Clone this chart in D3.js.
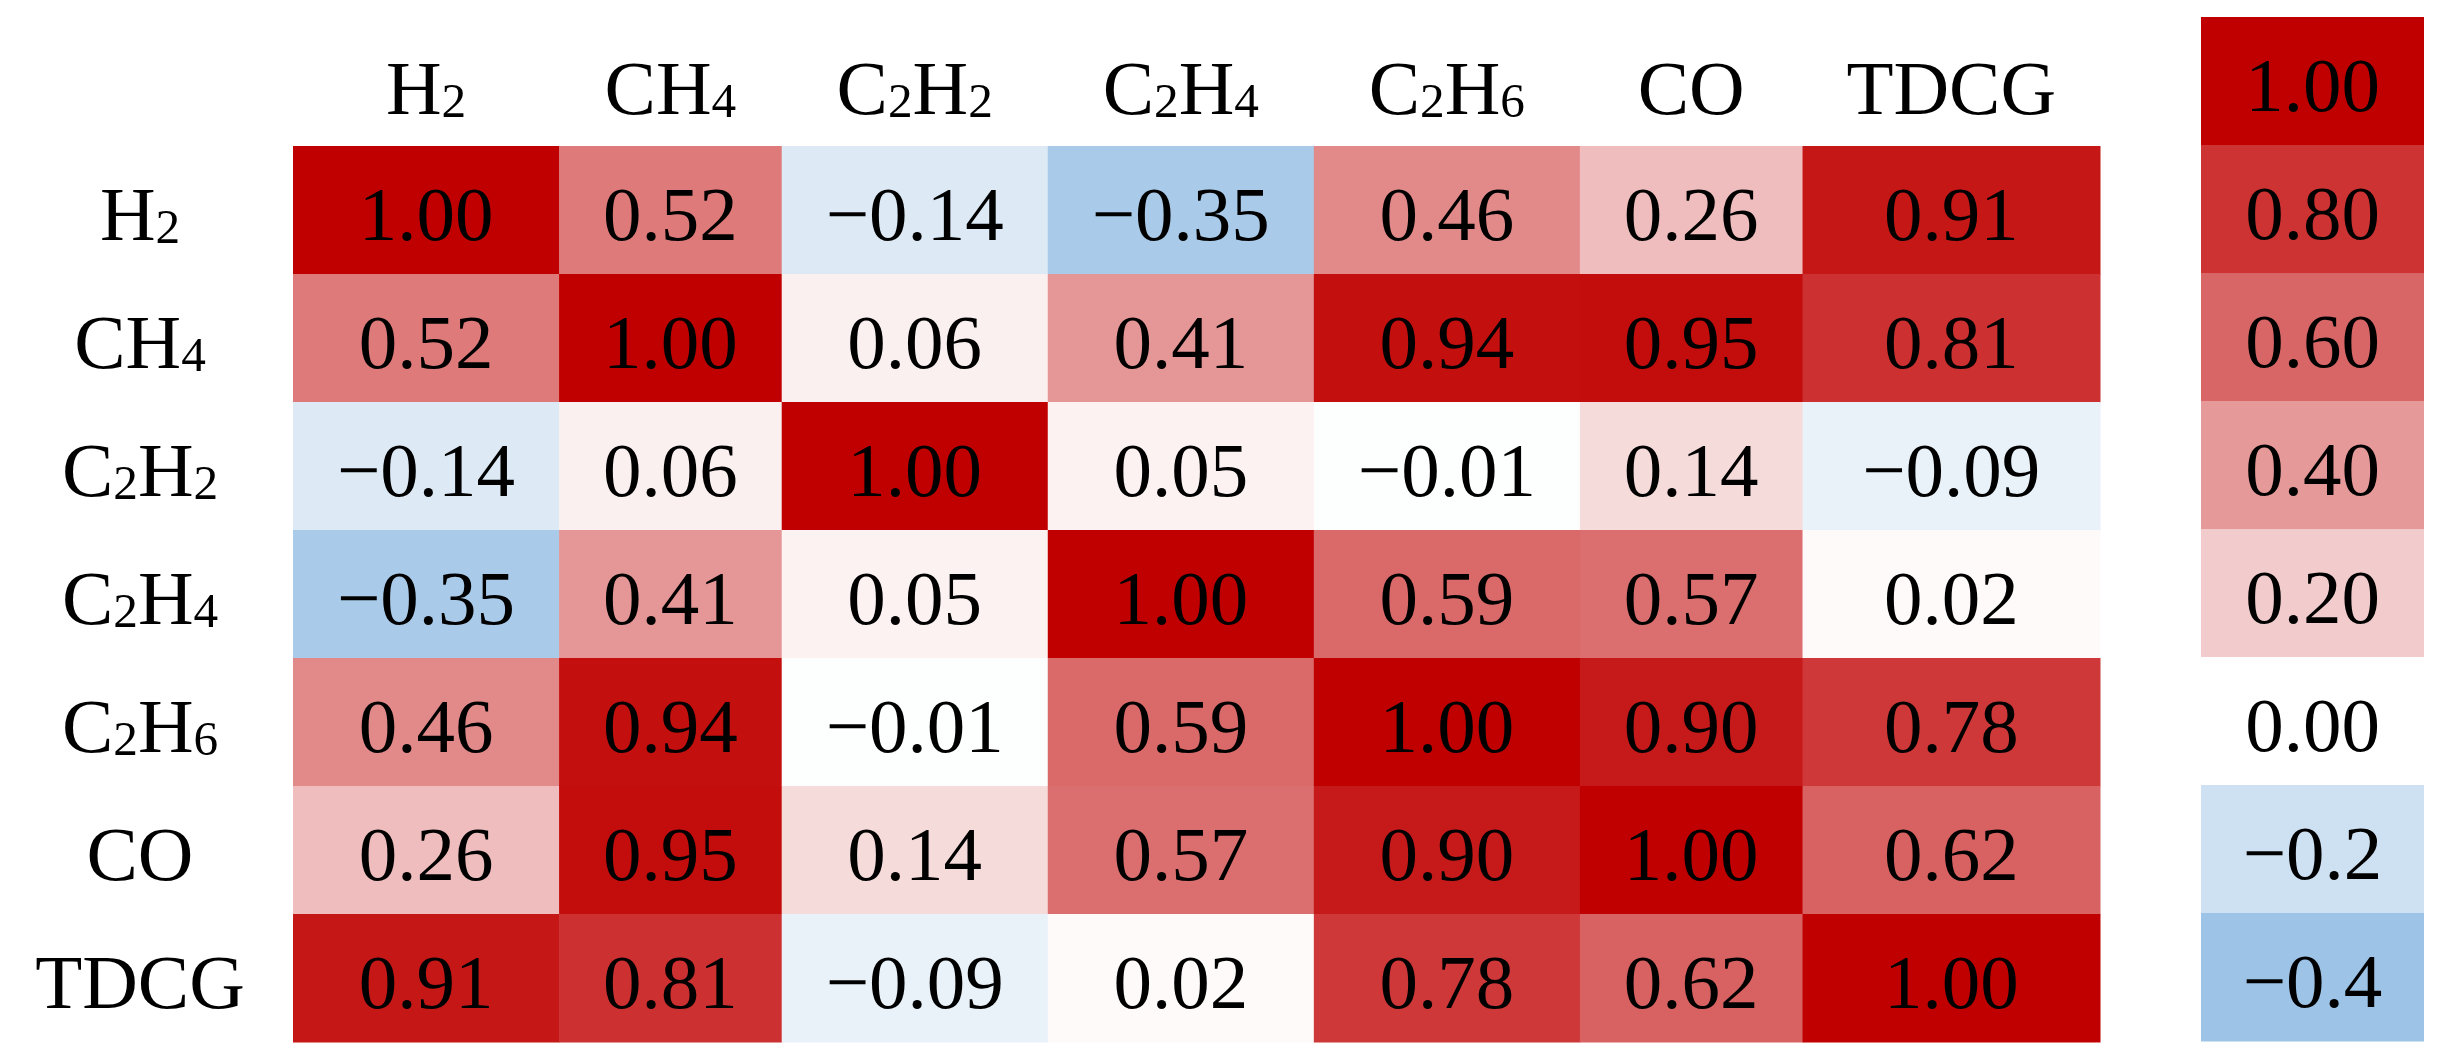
<!DOCTYPE html>
<html>
<head>
<meta charset="utf-8">
<script src="https://cdn.jsdelivr.net/npm/d3@7"></script>
<style>
  body { margin: 0; background: #fff; }
  text { font-family: "Liberation Serif", "DejaVu Serif", serif; fill: #000; }
</style>
</head>
<body>
<div id="heatmap"></div>
<script>
// gases, in row and column order
const gases = ["H2", "CH4", "C2H2", "C2H4", "C2H6", "CO", "TDCG"];

// correlation matrix, one row per gas
const corrH2   = [1.00, 0.52, -0.14, -0.35, 0.46, 0.26, 0.91];
const corrCH4  = [0.52, 1.00, 0.06, 0.41, 0.94, 0.95, 0.81];
const corrC2H2 = [-0.14, 0.06, 1.00, 0.05, -0.01, 0.14, -0.09];
const corrC2H4 = [-0.35, 0.41, 0.05, 1.00, 0.59, 0.57, 0.02];
const corrC2H6 = [0.46, 0.94, -0.01, 0.59, 1.00, 0.90, 0.78];
const corrCO   = [0.26, 0.95, 0.14, 0.57, 0.90, 1.00, 0.62];
const corrTDCG = [0.91, 0.81, -0.09, 0.02, 0.78, 0.62, 1.00];

// colour bar steps and their labels
const legendValues = [1.0, 0.8, 0.6, 0.4, 0.2, 0.0, -0.2, -0.4];
const legendLabels = ["1.00", "0.80", "0.60", "0.40", "0.20", "0.00", "\u22120.2", "\u22120.4"];

const matrix = [corrH2, corrCH4, corrC2H2, corrC2H4, corrC2H6, corrCO, corrTDCG];

let width = 2439,
    height = 1059,
    fontSize = 77,
    baseShift = 30, // text baseline below the cell centre
    margin = ({ top: 146, left: 293, bottom: 17, right: 339 }),
    labelCenter = 140,
    legendX = [2201, 2424],
    legendTop = 17;

const svg = d3.select("#heatmap")
  .append("svg")
  .attr("width", width)
  .attr("height", height)
  .attr("viewBox", [0, 0, width, height]);

const fmt = d3.format(".2f");

const color = d3.scaleLinear()
  .domain([-0.4, 0, 1])
  .range(["#9dc3e6", "#ffffff", "#c00000"])
  .clamp(true);

// writes a gas name with its digits as small subscripts
function gasLabel(sel, name) {
  let parts = name.split(/(\d+)/).filter(p => p !== "");
  let down = false;
  for (let p of parts) {
    let t = sel.append("tspan").text(p);
    if (/^\d+$/.test(p)) {
      t.attr("font-size", "0.64em").attr("dy", 3);
      down = true;
    } else if (down) {
      t.attr("dy", -3);
      down = false;
    }
  }
}

// column widths follow their widest text, like a table
let probe = svg.append("g").attr("font-size", fontSize);
let colWidths = gases.map((g, j) => {
  let th = probe.append("text");
  gasLabel(th, g);
  let w = th.node().getBBox().width;
  for (let row of matrix) {
    let tv = probe.append("text").text(fmt(row[j]));
    w = Math.max(w, tv.node().getBBox().width);
  }
  return w + 88;
});
probe.remove();

let scaleFit = (width - margin.right - margin.left) / d3.sum(colWidths);
let edges = [margin.left];
colWidths.forEach(w => edges.push(edges[edges.length - 1] + w * scaleFit));

let x = d3.scaleOrdinal().domain(gases).range(edges.slice(0, -1));
let xw = d3.scaleOrdinal().domain(gases).range(colWidths.map(w => w * scaleFit));

let y = d3.scaleBand()
  .domain(gases)
  .range([margin.top, height - margin.bottom]);

// cells
let cells = (row, i) => row.map((v, j) => ({ r: gases[i], c: gases[j], v }));

let rows = svg.append("g")
  .selectAll("g")
  .data(matrix)
  .join("g");

rows.selectAll("rect")
  .data(cells)
  .join("rect")
  .attr("x", d => x(d.c))
  .attr("y", d => y(d.r))
  .attr("width", d => xw(d.c) + 0.5)
  .attr("height", y.bandwidth() + 0.5)
  .attr("fill", d => color(d.v));

rows.selectAll("text")
  .data(cells)
  .join("text")
  .attr("x", d => x(d.c) + xw(d.c) / 2)
  .attr("y", d => y(d.r) + y.bandwidth() / 2 + baseShift)
  .attr("text-anchor", "middle")
  .attr("font-size", fontSize)
  .text(d => fmt(d.v));

// column headers
svg.append("g")
  .selectAll("text")
  .data(gases)
  .join("text")
  .attr("x", d => x(d) + xw(d) / 2)
  .attr("y", margin.top - y.bandwidth() / 2 + baseShift + 2)
  .attr("text-anchor", "middle")
  .attr("font-size", fontSize)
  .each(function (d) { gasLabel(d3.select(this), d); });

// row labels
svg.append("g")
  .selectAll("text")
  .data(gases)
  .join("text")
  .attr("x", labelCenter)
  .attr("y", d => y(d) + y.bandwidth() / 2 + baseShift)
  .attr("text-anchor", "middle")
  .attr("font-size", fontSize)
  .each(function (d) { gasLabel(d3.select(this), d); });

// colour bar
let ly = d3.scaleBand()
  .domain(legendValues)
  .range([legendTop, legendTop + legendValues.length * y.bandwidth()]);

let legend = svg.append("g").attr("class", "legend");

legend.selectAll("rect")
  .data(legendValues)
  .join("rect")
  .attr("x", legendX[0])
  .attr("y", d => ly(d))
  .attr("width", legendX[1] - legendX[0])
  .attr("height", ly.bandwidth() + 0.5)
  .attr("fill", d => color(d));

legend.selectAll("text")
  .data(legendValues)
  .join("text")
  .attr("x", (legendX[0] + legendX[1]) / 2)
  .attr("y", d => ly(d) + ly.bandwidth() / 2 + baseShift)
  .attr("text-anchor", "middle")
  .attr("font-size", fontSize)
  .text((d, i) => legendLabels[i]);
</script>
</body>
</html>
